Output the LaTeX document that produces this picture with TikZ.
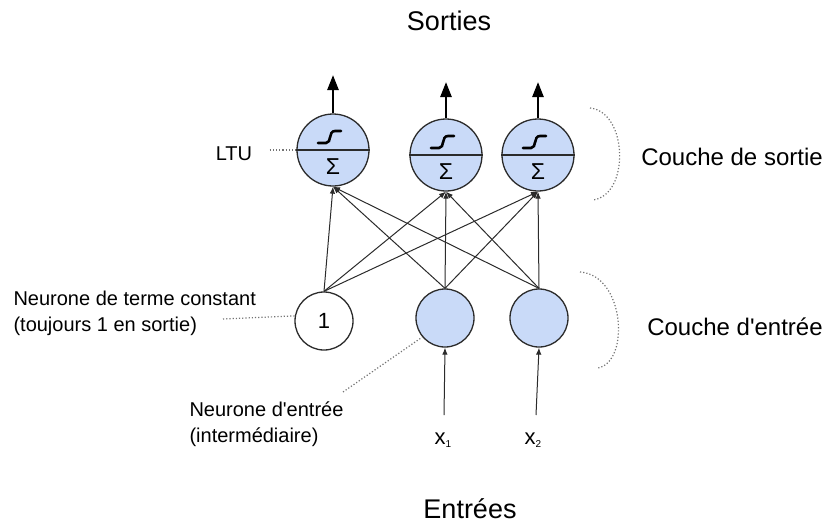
\documentclass[tikz,border=0pt]{standalone}
\usepackage{fontspec}
\setmainfont{Liberation Sans}
\usetikzlibrary{arrows.meta}
\definecolor{bleu}{HTML}{C9DAF8}
\definecolor{trait}{HTML}{2B2B2B}

\begin{document}
\begin{tikzpicture}[x=1pt,y=1pt,
      neur/.style={circle,draw=trait,line width=1.3pt,fill=bleu,minimum size=72pt,inner sep=0pt},
      entr/.style={circle,draw=trait,line width=1.3pt,fill=bleu,minimum size=58pt,inner sep=0pt},
      conn/.style={-{Latex[length=7pt,width=5.5pt]},line width=1pt,draw=trait},
      sortie/.style={-{Triangle[length=15pt,width=11pt]},line width=2.5pt},
      pointille/.style={dotted,line width=1.2pt,draw=black!55},
      titre/.style={font=\fontsize{27}{30}\selectfont},
      grand/.style={font=\fontsize{24}{28}\selectfont},
      petit/.style={font=\fontsize{20}{26}\selectfont,align=left}
    ]
      \useasboundingbox (0,0) rectangle (829,-525);

      \node[neur] (s1) at (333,-150) {};
      \node[neur] (s2) at (446,-155) {};
      \node[neur] (s3) at (538,-155) {};
      \node[entr,fill=white] (b) at (324,-321) {\fontsize{22}{24}\selectfont 1};
      \node[entr] (e1) at (445,-318) {};
      \node[entr] (e2) at (539,-318) {};

      \foreach \s in {s1,s2,s3}{
        \draw[line width=1.3pt,trait] (\s.west) -- (\s.east);
        \draw[line width=2.6pt,line cap=round] ([shift={(-15,7)}]\s.center) -- ++(8,0)
          .. controls ++(6,0) and ++(-7,0) .. ++(9,12) -- ++(6,0);
        \node[font=\fontsize{23}{24}\selectfont] (sig-\s) at ([yshift=-17pt]\s.center) {Σ};
      }

      \coordinate (t1) at (333,-75);
      \coordinate (t2) at (446,-82);
      \coordinate (t3) at (538,-82);
      \draw[sortie] (s1.north) -- (t1);
      \draw[sortie] (s2.north) -- (t2);
      \draw[sortie] (s3.north) -- (t3);

      \foreach \i in {b,e1,e2}
        \foreach \o in {s1,s2,s3}
          \draw[conn] (\i.north) -- (\o.south);

      \coordinate (x1) at (444,-415);
      \coordinate (x2) at (536,-415);
      \draw[conn] (x1) -- (e1.south);
      \draw[conn] (x2) -- (e2.south);
      \node[font=\fontsize{22}{24}\selectfont] (lx1) at (443,-440) {x\raisebox{-3pt}{\fontsize{10}{10}\selectfont 1}};
      \node[font=\fontsize{22}{24}\selectfont] (lx2) at (533,-440) {x\raisebox{-3pt}{\fontsize{10}{10}\selectfont 2}};

      \node[petit] (ltu) at (234,-154) {LTU};
      \draw[pointille,shorten <=14pt] (ltu.east |- s1.west) -- (s1.west);

      \node[petit,anchor=west] (lbiais) at (10,-313) {Neurone de terme constant\\(toujours 1 en sortie)};
      \coordinate (pb) at (223,-319);
      \draw[pointille] (pb) -- (b.170);

      \node[petit,anchor=west] (lentree) at (186,-424) {Neurone d\textquotesingle entrée\\(intermédiaire)};
      \coordinate (pe) at (343,-392);
      \draw[pointille] (pe) -- (e1.220);

      \coordinate (cs1) at (590,-108);
      \coordinate (cs2) at (593,-200);
      \coordinate (ce1) at (580,-272);
      \coordinate (ce2) at (598,-368);
      \draw[pointille] (cs1) .. controls (628,-112) and (630,-195) .. (cs2);
      \draw[pointille] (ce1) .. controls (625,-275) and (630,-362) .. (ce2);

      \node[grand] (csortie) at (732,-157) {Couche de sortie};
      \node[grand] (centree) at (735,-327) {Couche d\textquotesingle entrée};
      \node[titre] (sorties) at (449,-21) {Sorties};
      \node[titre] (entrees) at (470,-509) {Entrées};
    \end{tikzpicture}
\end{document}
